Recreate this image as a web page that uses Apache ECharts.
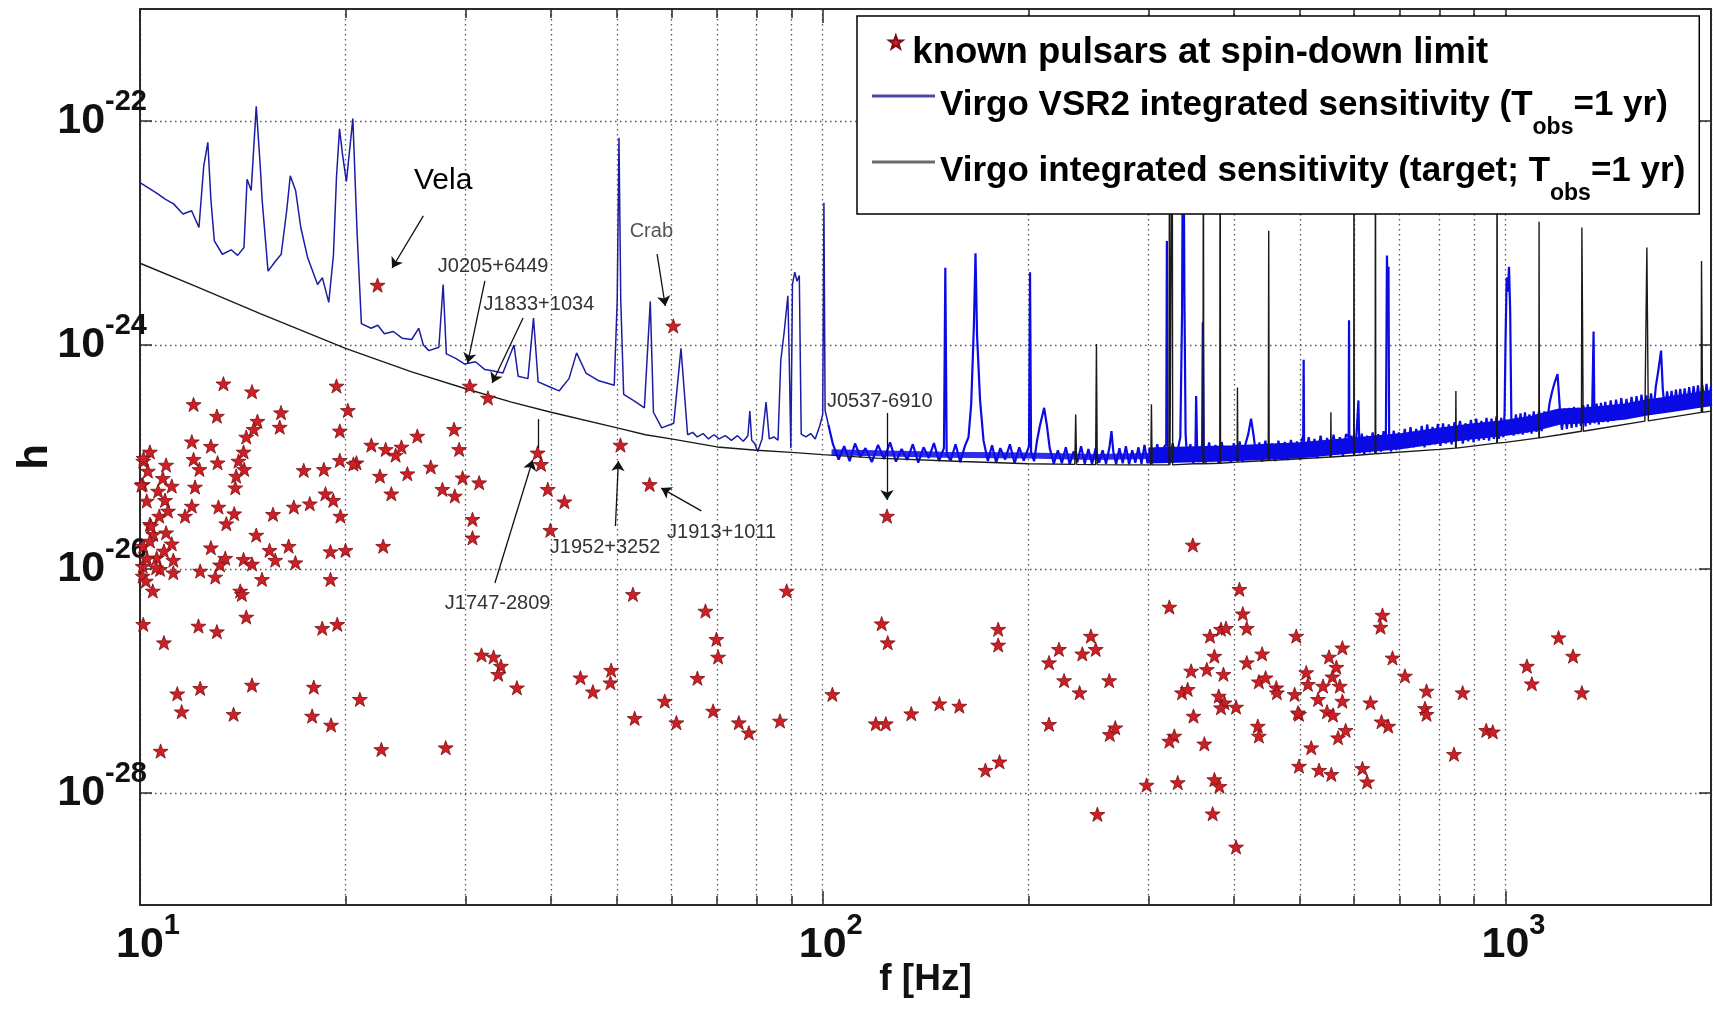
<!DOCTYPE html>
<html><head><meta charset="utf-8">
<script src="https://cdn.jsdelivr.net/npm/echarts@6/dist/echarts.min.js"></script>
<style>html,body{margin:0;padding:0;background:#fff}#c{width:1713px;height:1011px}</style>
</head><body><div id="c"></div>
<script>
// ---------- data ----------
const pulsarName = 'known pulsars at spin-down limit';
const vsr2Name = 'Virgo VSR2 integrated sensitivity (Tobs=1 yr)';
const targetName = 'Virgo integrated sensitivity (target; Tobs=1 yr)';

const xTicks = [10, 100, 1000];
const yTicks = [1e-28, 1e-26, 1e-24, 1e-22];

// [frequency Hz, strain h]
const pulsars = [
[22.28,3.43e-24],[60.41,1.48e-24],[30.41,4.31e-25],[32.33,3.37e-25],[38.23,1.09e-25],[50.55,1.28e-25],[55.78,5.70e-26],[124.2,2.97e-26],
[13.25,4.51e-25],[14.59,3.83e-25],[19.40,4.31e-25],[11.98,2.95e-25],[12.96,2.32e-25],[20.16,2.61e-25],[16.09,2.49e-25],[14.86,2.09e-25],
[16.02,1.85e-25],[14.67,1.77e-25],[19.62,1.71e-25],[14.31,1.51e-25],[11.91,1.37e-25],[12.70,1.25e-25],[21.82,1.28e-25],[22.90,1.17e-25],
[24.15,1.23e-25],[23.68,1.04e-25],[25.48,1.54e-25],[28.84,1.77e-25],[29.34,1.17e-25],[10.34,1.11e-25],[14.18,1.11e-25],[11.98,9.54e-26],
[12.99,8.89e-26],[13.94,9.21e-26],[19.62,9.34e-26],[20.75,8.89e-26],[20.54,8.66e-26],[10.11,9.21e-26],[10.92,8.49e-26],[12.22,7.76e-26],
[14.21,7.76e-26],[17.37,7.60e-26],[18.59,7.76e-26],[26.66,8.15e-26],[13.83,6.76e-26],[22.46,6.76e-26],[24.64,7.10e-26],[29.68,6.53e-26],
[31.39,5.90e-26],[10.80,6.46e-26],[10.09,5.70e-26],[11.13,5.51e-26],[12.04,5.40e-26],[13.79,5.32e-26],[27.73,5.15e-26],[23.34,4.70e-26],
[18.69,4.70e-26],[19.19,4.11e-26],[28.91,4.49e-26],[10.23,4.05e-26],[10.88,4.11e-26],[17.73,3.83e-26],[16.80,3.58e-26],[11.91,3.65e-26],
[13.03,3.58e-26],[15.66,3.08e-26],[13.74,3.12e-26],[11.64,2.97e-26],[19.66,2.97e-26],[30.69,2.78e-26],[10.67,2.97e-26],[10.34,2.51e-26],
[13.38,2.54e-26],[10.92,2.11e-26],[14.80,2.01e-26],[30.69,1.90e-26],[10.46,2.04e-26],[10.11,1.60e-26],[11.13,1.68e-26],[12.70,1.55e-26],
[16.51,1.60e-26],[15.48,1.47e-26],[22.71,1.60e-26],[19.01,1.43e-26],[20.00,1.47e-26],[10.58,1.26e-26],[11.19,1.20e-26],[13.33,1.25e-26],
[14.18,1.22e-26],[15.78,1.20e-26],[14.59,1.11e-26],[16.89,1.14e-26],[13.10,1.09e-26],[10.09,1.06e-26],[10.70,9.94e-27],[12.25,9.60e-27],
[11.19,9.27e-27],[12.89,8.49e-27],[15.09,8.09e-27],[19.01,8.09e-27],[10.09,8.66e-27],[10.44,6.37e-27],[14.02,6.37e-27],[14.10,5.94e-27],
[14.31,3.73e-27],[10.12,9.76e-26],[10.05,5.62e-26],[10.38,2.42e-26],[10.24,1.24e-26],[10.56,1.03e-26],[10.27,7.5e-26],[10.63,4.97e-26],
[10.99,3.30e-26],[10.34,1.78e-26],[10.84,1.45e-26],[10.20,7.82e-27],
[10.11,3.21e-27],[10.84,2.20e-27],[12.18,3.10e-27],[12.96,2.76e-27],[18.49,2.96e-27],[19.45,3.21e-27],[11.34,7.70e-28],[12.25,8.61e-28],
[14.59,9.21e-28],[17.97,8.83e-28],[11.51,5.32e-28],[13.71,5.05e-28],[17.87,4.87e-28],[19.05,4.05e-28],[20.99,6.87e-28],[10.72,2.37e-28],
[22.57,2.45e-28],[28.04,2.54e-28],
[38.67,8.61e-26],[39.56,5.15e-26],[41.84,3.99e-26],[39.91,2.22e-26],[52.72,5.94e-27],[67.33,4.22e-27],[88.55,6.37e-27],[31.64,1.71e-27],
[32.95,1.64e-27],[33.78,1.36e-27],[33.47,1.15e-27],[35.65,8.71e-28],[44.17,1.07e-27],[46.06,8.02e-28],[48.99,1.25e-27],[48.87,9.66e-28],
[69.87,2.36e-27],[70.27,1.64e-27],[65.53,1.06e-27],[58.69,6.62e-28],[53.03,4.65e-28],[61.05,4.25e-28],[69.10,5.40e-28],[75.35,4.25e-28],
[77.95,3.45e-28],[86.57,4.40e-28],[103.3,7.60e-28],[122.0,3.25e-27],[124.5,2.20e-27],[119.6,4.16e-28],[123.7,4.16e-28],
[348.4,1.64e-26],[180.7,2.90e-27],[180.7,2.10e-27],[134.8,5.11e-28],[148.2,6.27e-28],[158.5,5.98e-28],[173.1,1.60e-28],[181.5,1.90e-28],
[247.0,2.52e-27],[221.8,1.92e-27],[251.1,1.92e-27],[240.0,1.75e-27],[214.5,1.46e-27],[225.7,1.01e-27],[262.8,1.01e-27],[237.8,7.87e-28],
[214.5,4.11e-28],[268.2,3.83e-28],[263.3,3.34e-28],[252.5,6.46e-29],[321.9,4.58e-27],[407.7,6.59e-27],[412.3,3.99e-27],[417.9,2.96e-27],
[369.2,2.52e-27],[383.1,2.90e-27],[389.6,2.96e-27],[374.7,1.67e-27],[346.4,1.23e-27],[365.2,1.27e-27],[386.3,1.15e-27],[417.9,1.46e-27],
[440.1,1.75e-27],[493.8,2.52e-27],[335.9,7.87e-28],[342.4,8.43e-28],[380.2,7.35e-28],[387.6,6.40e-28],[383.1,5.78e-28],[403.1,5.86e-28],
[435.3,9.86e-28],[445.3,1.07e-27],[461.6,8.71e-28],[462.6,7.87e-28],[491.1,7.60e-28],[349.2,4.87e-28],[433.8,3.96e-28],[435.3,3.23e-28],
[498.4,5.05e-28],[327.3,3.23e-28],[321.9,2.91e-28],[362.2,2.75e-28],[498.4,1.74e-28],[298.1,1.18e-28],[331.1,1.24e-28],[374.7,1.32e-28],
[381.1,1.15e-28],[372.5,6.53e-29],[403.1,3.30e-29],
[660.5,3.88e-27],[656.1,3.03e-27],[576.9,1.98e-27],[551.5,1.64e-27],[683.2,1.61e-27],[565.4,1.33e-27],[510.7,1.19e-27],[557.8,1.09e-27],
[712.4,1.11e-27],[513.6,9.35e-28],[540.5,9.02e-28],[571.9,9.02e-28],[531.5,6.87e-28],[576.9,6.62e-28],[634.2,6.40e-28],[766.3,8.15e-28],
[865.5,7.87e-28],[496.6,5.21e-28],[547.8,5.32e-28],[559.0,4.97e-28],[762.3,5.70e-28],[766.3,5.05e-28],[583.3,3.63e-28],[568.6,3.12e-28],
[658.3,4.33e-28],[673.4,3.96e-28],[937.1,3.63e-28],[958.1,3.52e-28],[519.4,2.54e-28],[840.6,2.22e-28],[533.3,1.60e-28],[555.8,1.47e-28],
[617.3,1.66e-28],[627.2,1.26e-28],[1196,2.44e-27],[1256,1.67e-27],[1075,1.36e-27],[1093,9.46e-28],[1294,7.87e-28]
];

const vsr2 = [
[10.0,2.82e-23],[10.3,2.51e-23],[10.55,2.29e-23],[10.9,2.0e-23],[11.2,1.82e-23],[11.56,1.48e-23],[11.9,1.58e-23],[12.2,1.12e-23],
[12.4,3.98e-23],[12.57,6.46e-23],[12.7,2.0e-23],[12.85,8.51e-24],[13.2,6.46e-24],[13.6,7.08e-24],[13.9,6.31e-24],[14.2,7.41e-24],
[14.35,3.02e-23],[14.55,2.4e-23],[14.8,1.35e-22],[15.0,3.98e-23],[15.1,1.95e-23],[15.4,4.57e-24],[15.8,5.62e-24],[16.1,6.46e-24],
[16.4,1.58e-23],[16.6,3.24e-23],[16.9,2.4e-23],[17.2,1.12e-23],[17.6,6.03e-24],[18.2,3.47e-24],[18.5,3.98e-24],[18.9,2.4e-24],
[19.2,6.31e-24],[19.4,3.16e-23],[19.6,8.51e-23],[19.8,5.01e-23],[20.06,2.88e-23],[20.5,1.05e-22],[20.8,9.77e-24],[21.1,1.55e-24],
[21.8,1.41e-24],[22.3,1.5e-24],[22.8,1.26e-24],[23.5,1.32e-24],[24.2,1.15e-24],[25.0,1.12e-24],[25.6,1.41e-24],[26.0,1.0e-24],
[26.5,8.91e-25],[27.4,9.55e-25],[27.8,3.47e-24],[28.1,8.32e-25],[29.0,7.59e-25],[29.9,6.76e-25],[31.0,7.08e-25],[32.0,6.03e-25],
[32.8,5.89e-25],[34.0,5.62e-25],[35.3,1.0e-24],[35.8,5.25e-25],[37.0,5.01e-25],[37.7,1.74e-24],[38.3,4.68e-25],[40.0,4.17e-25],
[41.1,3.89e-25],[42.5,5.01e-25],[43.6,8.51e-25],[45.0,5.62e-25],[47.0,4.79e-25],[49.5,4.37e-25],[50.0,2.51e-24],[50.3,7.08e-23],
[50.6,2.51e-24],[51.1,3.63e-25],[53.0,3.16e-25],[54.8,2.75e-25],[55.9,2.45e-24],[56.5,2.51e-25],[58.1,1.82e-25],[60.5,2.0e-25],
[62.0,9.33e-25],[63.4,1.58e-25],
[64.5,1.66e-25],[65.5,1.51e-25],[66.8,1.62e-25],[68.0,1.45e-25],[69.3,1.58e-25],[70.5,1.45e-25],[72.0,1.55e-25],[73.5,1.41e-25],
[75.0,1.55e-25],[76.5,1.38e-25],[77.7,1.55e-25],[78.2,2.57e-25],[78.7,1.41e-25],[79.5,1.32e-25],[80.3,1.12e-25],[81.5,1.45e-25],
[82.6,3.09e-25],[83.5,1.45e-25],[84.8,1.51e-25],[86.0,1.41e-25],[86.8,7.24e-25],[87.8,1.3e-24],[88.9,2.75e-24],[89.3,8.0e-25],
[89.8,1.2e-25],[90.3,3.5e-24],[91.0,4.47e-24],[91.7,3.72e-24],[92.4,4.17e-24],[93.0,1.6e-25],[94.5,1.51e-25],[96.0,1.62e-25],
[97.5,1.45e-25],[99.0,1.9e-25],[100.0,2.4e-25],[100.4,1.86e-23],[100.8,2.6e-25],[101.9,1.95e-25],
[103.5,1.3e-25],[105.5,9.5e-26],[107.5,1.25e-25],[109.5,9.2e-26],[111.5,1.32e-25],[113.5,1.0e-25],[115.5,1.2e-25],[118,9.0e-26],
[120.5,1.28e-25],[123,9.6e-26],[125.5,1.35e-25],[128,9.1e-26],[130.5,1.18e-25],[133,9.4e-26],[135.5,1.3e-25],[138,8.9e-26],
[140.5,1.22e-25],[143,9.8e-26],[145.5,1.33e-25],[148,9.2e-26],[150.5,1.2e-25],[151.2,4.9e-24],[151.9,1.05e-25],[154,9.3e-26],
[156.5,1.3e-25],[159,9.0e-26],[161.5,1.25e-25],[163.5,1.5e-25],[165,3.0e-25],[166.5,1.5e-24],[167.4,6.6e-24],[168.3,1.2e-24],
[170,3.2e-25],[172,1.4e-25],[174.5,9.2e-26],[177,1.27e-25],[179.5,8.9e-26],[182,1.2e-25],[185,9.5e-26],[188,1.3e-25],
[191,8.8e-26],[194,1.22e-25],[197,9.3e-26],[200.5,1.25e-25],[201.2,4.47e-24],[201.9,1.1e-25],[204,9.2e-26],[206,1.4e-25],
[208,1.9e-25],[211,2.75e-25],[213,1.9e-25],[215,1.2e-25],[218,8.7e-26],[221,1.15e-25],[224,8.8e-26],[227,1.22e-25],
[230,8.6e-26],[233,1.12e-25],[236,9.0e-26],[239,1.25e-25],[242,8.7e-26],[245,1.18e-25],[248,8.6e-26],[251,1.2e-25],
[254,8.9e-26],[257,1.15e-25],[260,8.7e-26],[263,1.22e-25],[264.8,1.7e-25],[266.5,1.1e-25],[269,8.6e-26],[272,1.2e-25],
[275,8.8e-26],[278,1.25e-25],[281,8.6e-26],[284,1.15e-25],[287,8.9e-26],[290,1.22e-25],[293,8.7e-26],[296,1.28e-25],
[299,8.8e-26],[302,1.2e-25],[305.5,8.9e-26],[309,1.3e-25],[312.5,9.2e-26],[316,1.22e-25],[318.5,1.3e-25],[319.2,8.5e-24],
[319.9,1.1e-25],[322,8.8e-26],[325.5,1.33e-25],[329,9.0e-26],[332,1.25e-25],[334,1.5e-25],[336,2.0e-24],[337.3,5.0e-22],
[338.6,3.0e-24],[340,1.6e-25],[342,9.1e-26],[345.5,1.3e-25],[349,8.8e-26],[351.5,1.2e-25],[352.3,3.5e-25],[353.5,1.15e-25],
[356,9.0e-26],[359.5,1.3e-25],[360.3,1.6e-24],[361.5,1.05e-25],[364,8.9e-26],[368,1.35e-25],[372,9.2e-26],[376,1.28e-25],
[380,8.8e-26],[384,1.36e-25],[388,9.4e-26],[392,1.24e-25],[396,8.9e-26],[400,1.33e-25],[404,9.3e-26],[408,1.38e-25],
[412,9.0e-26],[416,1.3e-25],[420,1.6e-25],[424,2.2e-25],[428,1.5e-25],[432,9.4e-26],[436,1.35e-25],[440,9.1e-26],
[445,1.4e-25],[450,9.5e-26],[455,1.32e-25],[460,9.2e-26],[465,1.4e-25],[470,9.6e-26],[475,1.36e-25],[480,9.4e-26],
[485,1.42e-25],[490,9.8e-26],[495,1.38e-25],[500,9.5e-26],[503,1.4e-25],[505.5,1.55e-25],[506.3,7.4e-25],[507.1,1.15e-25],
[510,1.0e-25],[515,1.5e-25],[520,1.02e-25],[525,1.45e-25],[530,9.8e-26],[536,1.55e-25],[542,1.04e-25],[548,1.48e-25],
[554,1.0e-25],[560,1.58e-25],[566,1.06e-25],[572,1.5e-25],[578,1.02e-25],[584,1.6e-25],[589.3,1.5e-25],[590,1.66e-24],
[590.7,1.1e-25],[595,1.55e-25],[600,1.05e-25],[605,1.58e-25],[609,3.2e-25],[611,1.08e-25],[616,1.62e-25],[621,1.05e-25],
[627,1.55e-25],[633,1.1e-25],[639,1.66e-25],[645,1.07e-25],[651,1.6e-25],[657,1.12e-25],[663,1.7e-25],[668,1.4e-25],
[670.5,6.3e-24],[672,3.0e-24],[674,5.0e-24],[675.5,1.3e-25],[680,1.12e-25],[686,1.72e-25],[692,1.15e-25],[698,1.66e-25],
[705,1.18e-25],[712,1.78e-25],[719,1.2e-25],[726,1.85e-25],[733,1.22e-25],[740,1.78e-25],[747,1.25e-25],[754,1.9e-25],
[761,1.22e-25],[768,1.95e-25],[775,1.28e-25],[782,1.86e-25],[789,1.3e-25],[796,1.98e-25],[803,1.26e-25],[810,2.0e-25],
[818,1.32e-25],[826,1.95e-25],[834,1.3e-25],[842,2.05e-25],[846,1.4e-25],[850,1.35e-25],[858,2.1e-25],[866,1.32e-25],
[874,2.0e-25],[882,1.38e-25],[890,2.14e-25],[898,1.35e-25],[906,2.2e-25],[914,1.4e-25],[922,2.1e-25],[930,1.42e-25],
[938,2.24e-25],[946,1.4e-25],[954,2.2e-25],[962,1.45e-25],[970,2.3e-25],[978,1.45e-25],[986,2.24e-25],[993,1.5e-25],
[997,2.5e-25],[1000,1.0e-24],[1004,4.0e-24],[1008,3.0e-24],[1012,5.0e-24],[1016,2.0e-24],[1020,2.2e-25],[1028,1.55e-25],
[1036,2.4e-25],[1044,1.6e-25],[1052,2.45e-25],[1060,1.58e-25],[1068,2.5e-25],[1076,1.65e-25],[1084,2.4e-25],[1092,1.62e-25],
[1100,2.55e-25],[1110,1.68e-25],[1120,2.6e-25],[1130,1.7e-25],[1140,2.55e-25],[1150,2.0e-25],[1160,3.0e-25],[1170,3.8e-25],
[1180,4.6e-25],[1192,5.5e-25],[1198,3.5e-25],[1204,2.2e-25],[1210,1.75e-25],[1220,2.7e-25],[1230,1.78e-25],[1240,2.75e-25],
[1250,1.82e-25],[1260,2.8e-25],[1270,1.85e-25],[1280,2.75e-25],[1290,1.9e-25],[1300,2.9e-25],[1310,1.88e-25],[1320,2.95e-25],
[1330,1.95e-25],[1340,2.85e-25],[1346,1.32e-24],[1350,2.0e-25],[1360,3.0e-25],[1370,1.95e-25],[1380,3.05e-25],[1390,2.05e-25],
[1400,3.1e-25],[1413,2.05e-25],[1426,3.2e-25],[1439,2.1e-25],[1452,3.25e-25],[1465,2.15e-25],[1478,3.35e-25],[1491,2.2e-25],
[1504,3.3e-25],[1517,2.25e-25],[1530,3.45e-25],[1543,2.3e-25],[1556,3.5e-25],[1569,2.3e-25],[1582,3.6e-25],[1595,2.4e-25],
[1608,3.55e-25],[1621,2.45e-25],[1634,3.7e-25],[1647,2.5e-25],[1660,4.2e-25],[1675,6.0e-25],[1690,8.9e-25],[1700,4.0e-25],
[1712,2.55e-25],[1725,3.85e-25],[1738,2.6e-25],[1751,3.9e-25],[1764,2.65e-25],[1777,4.0e-25],[1790,2.7e-25],[1803,4.05e-25],
[1816,2.75e-25],[1830,4.1e-25],[1844,2.8e-25],[1858,4.2e-25],[1872,2.85e-25],[1886,4.3e-25],[1900,2.9e-25],[1914,4.35e-25],
[1928,2.95e-25],[1942,4.4e-25],[1956,3.0e-25],[1970,4.5e-25],[1985,3.05e-25],[2000,4.3e-25]
];

// centre line of the dense VSR2 noise band (the band itself is drawn as a thick stroke)
const vsr2BandLow = [[103,1.1e-25],[150,1.05e-25],[200,1.03e-25],[250,1.0e-25],[300,1.02e-25]];
const vsr2BandHigh = [
[300,1.03e-25],[400,1.08e-25],[500,1.15e-25],[600,1.27e-25],[700,1.38e-25],[800,1.55e-25],[900,1.7e-25],[1000,1.82e-25],
[1100,2.0e-25],[1200,2.3e-25],[1300,2.35e-25],[1400,2.45e-25],[1500,2.55e-25],[1600,2.75e-25],[1700,2.9e-25],[1800,3.05e-25],
[1900,3.2e-25],[2000,3.35e-25]
];

const target = [
[10,5.37e-24],[12,3.39e-24],[15,1.91e-24],[20,9.33e-25],[25,5.75e-25],[30,4.07e-25],[35,3.09e-25],[40,2.51e-25],
[50,1.82e-25],[55,1.58e-25],[60,1.45e-25],[70,1.23e-25],[80,1.15e-25],[90,1.10e-25],[100,1.05e-25],[120,9.77e-26],
[160,9.12e-26],[200,8.71e-26],[234,8.6e-26],[234.7,2.4e-25],[235.4,8.6e-26],[251,8.55e-26],[251.7,1.02e-24],[252.4,8.55e-26],
[280,8.51e-26],[302.3,8.5e-26],[303,2.95e-25],[303.7,8.5e-26],[321.5,8.5e-26],[322,3.2e-22],[322.5,8.5e-26],[324.5,8.5e-26],
[325,3.2e-22],[325.5,8.5e-26],[350,8.71e-26],[360.5,8.7e-26],[361,3.2e-22],[361.5,8.7e-26],[381.5,8.8e-26],[382,3.2e-22],
[382.5,8.8e-26],[404.5,9.0e-26],[405,4.17e-25],[405.5,9.0e-26],[449.3,9.3e-26],[450,1.05e-23],[450.7,9.3e-26],[554.4,1.0e-25],
[555,2.51e-25],[555.6,1.0e-25],[599.4,1.03e-25],[600,3.2e-22],[600.6,1.03e-25],[644.3,1.07e-25],[645,3.2e-22],[645.7,1.07e-25],
[800,1.17e-25],[845,1.2e-25],[846,3.89e-25],[847,1.2e-25],[971,1.33e-25],[972,3.2e-22],[973,1.33e-25],[1000,1.35e-25],
[1119,1.48e-25],[1120,1.26e-23],[1121,1.48e-25],[1200,1.58e-25],[1292,1.7e-25],[1294,1.12e-23],[1298,1.12e-23],[1300,1.7e-25],
[1600,2.09e-25],[1609,2.1e-25],[1611,7.41e-24],[1617,7.41e-24],[1619,2.1e-25],[1935,2.5e-25],[1937,5.62e-24],[1942,5.62e-24],
[1944,2.5e-25],[2000,2.57e-25]
];

// annotations (data coordinates)
const labelNames = ['Vela','Crab','J0205+6449','J1833+1034','J1747-2809','J1952+3252','J1913+1011','J0537-6910'];
const labelAt = [[27.8,2.91e-23],[56.1,1.04e-23],[32.9,5.07e-24],[38.4,2.32e-24],[33.4,4.97e-27],[48.0,1.57e-26],[71.1,2.14e-26],[121.2,3.16e-25]];
const arrowFrom = [[26.0,1.42e-23],[57.2,6.49e-24],[32.0,3.73e-24],[36.4,1.74e-24],[33.1,7.50e-27],[49.7,2.42e-26],[66.4,3.30e-26],[124.2,2.47e-25]];
const arrowTo = [[23.4,4.87e-24],[58.8,2.23e-24],[30.2,6.91e-25],[32.8,4.58e-25],[37.6,9.40e-26],[50.2,9.2e-26],[58.0,5.28e-26],[124.2,4.13e-26]];
const plainSegments = [[[38.3,2.18e-25],[38.3,1.20e-25]]];

// ---------- chart ----------
const SPLIT_F = 101.9; // the VSR2 curve is drawn thin below, dense band above
const FONT = '"Liberation Sans", Arial, Helvetica, sans-serif';
const STAR = 'path://M0,-10L2.35,-3.24L9.51,-3.09L3.8,1.24L5.88,8.09L0,4L-5.88,8.09L-3.8,1.24L-9.51,-3.09L-2.35,-3.24Z';
const isTick = (v, list) => list.some(t => Math.abs(Math.log10(t) - Math.log10(v)) < 1e-6);
const expLabel = v => '{b|10}{s|' + Math.round(Math.log10(v)) + '}';
const GRID_LINE = {color: '#555', width: 1.3, type: [1.5, 3.5]};
const AX_LINE = {color: '#2a2a2a', width: 2};
const TICK = {color: '#2a2a2a', width: 1.5};
const BAND_BLUE = '#0b0be6';

const makeLegendRich = (size) => ({
  t: {fontSize: size, fontWeight: 'bold', fontFamily: FONT, color: '#000', lineHeight: 40, verticalAlign: 'top', padding: [12, 0, 0, 0]},
  sub: {fontSize: 23, fontWeight: 'bold', fontFamily: FONT, color: '#000', lineHeight: 24, verticalAlign: 'top', padding: [40, 0, 0, 0]}
});
const legendFormatter = n => {
  const i = n.indexOf('Tobs');
  if (i < 0) return '{t|' + n + '}';
  return '{t|' + n.slice(0, i + 1) + '}{sub|obs}{t|' + n.slice(i + 4) + '}';
};
const tickRich = (padLeft) => ({
  b: {fontSize: 43, fontWeight: 'bold', fontFamily: FONT, color: '#111', lineHeight: 68, padding: [0, 0, 0, padLeft]},
  s: {fontSize: 29, fontWeight: 'bold', fontFamily: FONT, color: '#111', lineHeight: 29, verticalAlign: 'top'}
});

const chart = echarts.init(document.getElementById('c'), null, {renderer: 'canvas'});
const option = {
  animation: false,
  backgroundColor: '#ffffff',
  grid: {left: 140, top: 9, right: 2, bottom: 106, containLabel: false, outerBoundsMode: 'none'},
  xAxis: [{
    type: 'log', logBase: 10, min: 10, max: 2000, position: 'bottom',
    axisLine: {show: true, onZero: false, lineStyle: AX_LINE},
    axisTick: {show: true, inside: true, length: 14, lineStyle: TICK},
    minorTick: {show: true, splitNumber: 9, length: 9, lineStyle: TICK},
    splitLine: {show: true, lineStyle: GRID_LINE},
    minorSplitLine: {show: true, lineStyle: GRID_LINE},
    axisLabel: {margin: 6, formatter: v => isTick(v, xTicks) ? expLabel(v) : '', rich: tickRich(16)},
    name: 'f [Hz]', nameLocation: 'middle', nameGap: 56, nameMoveOverlap: false,
    nameTextStyle: {fontSize: 37, fontWeight: 'bold', fontFamily: FONT, color: '#111'}
  }, {
    type: 'log', logBase: 10, min: 10, max: 2000, position: 'top',
    axisLine: {show: true, onZero: false, lineStyle: AX_LINE},
    axisTick: {show: true, inside: true, length: 14, lineStyle: TICK},
    minorTick: {show: true, splitNumber: 9, length: 9, lineStyle: TICK},
    axisLabel: {show: false}, splitLine: {show: false}
  }],
  yAxis: [{
    type: 'log', logBase: 100, min: 1e-29, max: 1e-21, position: 'left',
    axisLine: {show: true, onZero: false, lineStyle: AX_LINE},
    axisTick: {show: true, inside: true, length: 12, lineStyle: TICK},
    splitLine: {show: true, lineStyle: GRID_LINE},
    axisLabel: {margin: -7, formatter: v => isTick(v, yTicks) ? expLabel(v) : '', rich: tickRich(0)},
    name: 'h', nameLocation: 'middle', nameGap: 84, nameRotate: 90, nameMoveOverlap: false,
    nameTextStyle: {fontSize: 42, fontWeight: 'bold', fontFamily: FONT, color: '#111'}
  }, {
    type: 'log', logBase: 100, min: 1e-29, max: 1e-21, position: 'right',
    axisLine: {show: true, onZero: false, lineStyle: AX_LINE},
    axisTick: {show: true, inside: true, length: 12, lineStyle: TICK},
    axisLabel: {show: false}, splitLine: {show: false}
  }],
  legend: [{
    id: 'lgPulsar', orient: 'vertical', left: 857, top: 16, padding: [6, 0, 0, 31],
    itemWidth: 23, itemHeight: 13, z: 8, selectedMode: false,
    data: [{name: pulsarName, icon: STAR}],
    textStyle: {rich: makeLegendRich(36.5)}, formatter: legendFormatter
  }, {
    id: 'lgLines', orient: 'vertical', left: 857, top: 16, padding: [60, 14, 9, 15],
    itemWidth: 63, itemHeight: 3, itemGap: 3, z: 6, selectedMode: false,
    backgroundColor: '#ffffff', borderColor: '#000', borderWidth: 1.5,
    data: [
      {name: vsr2Name, icon: 'rect', itemStyle: {color: '#4b4ba6'}},
      {name: targetName, icon: 'rect', itemStyle: {color: '#6a6a6a'}}
    ],
    textStyle: {rich: makeLegendRich(35)}, formatter: legendFormatter
  }],
  series: [{
    name: vsr2Name, type: 'line', data: vsr2.filter(p => p[0] <= SPLIT_F), showSymbol: false, symbol: 'none',
    lineStyle: {color: '#1c1ca4', width: 1.5}, itemStyle: {color: '#1c1ca4'}, silent: true, z: 2
  }, {
    name: vsr2Name, type: 'line', data: vsr2BandLow, showSymbol: false, symbol: 'none',
    lineStyle: {color: BAND_BLUE, width: 6, opacity: 0.85}, itemStyle: {color: BAND_BLUE}, silent: true, z: 2
  }, {
    name: vsr2Name, type: 'line', data: vsr2BandHigh, showSymbol: false, symbol: 'none',
    lineStyle: {color: BAND_BLUE, width: 16}, itemStyle: {color: BAND_BLUE}, silent: true, z: 2
  }, {
    name: vsr2Name, type: 'line', data: vsr2.filter(p => p[0] >= SPLIT_F), showSymbol: false, symbol: 'none',
    lineStyle: {color: BAND_BLUE, width: 2.2}, itemStyle: {color: BAND_BLUE}, silent: true, z: 2
  }, {
    name: targetName, type: 'line', data: target, showSymbol: false, symbol: 'none',
    lineStyle: {color: '#1a1a1a', width: 1.4}, itemStyle: {color: '#1a1a1a'}, silent: true, z: 3
  }, {
    name: pulsarName, type: 'scatter', data: pulsars, symbol: STAR, symbolSize: 15, symbolKeepAspect: true,
    itemStyle: {color: '#cc1f26', borderColor: '#7a0e12', borderWidth: 0.8, opacity: 1}, z: 4, silent: true,
    markLine: {
      silent: true, symbol: ['none', 'arrow'], symbolSize: 10, animation: false,
      label: {show: false}, lineStyle: {color: '#111', width: 1.3, type: 'solid'},
      data: arrowFrom.map((a, i) => [{coord: a}, {coord: arrowTo[i]}]).concat(
        plainSegments.map(s => [{coord: s[0], symbol: 'none'}, {coord: s[1], symbol: 'none'}]))
    },
    markPoint: {
      silent: true, symbol: 'circle', symbolSize: 0, animation: false,
      label: {show: true, position: 'inside', formatter: p => p.name, fontSize: 20, fontFamily: FONT, color: '#333'},
      data: labelNames.map((n, i) => ({
        name: n, coord: labelAt[i],
        label: n === 'Vela' ? {fontSize: 30, color: '#000'} : (n === 'Crab' ? {fontSize: 20, color: '#555'} : {})
      }))
    }
  }]
};
chart.setOption(option);
</script>
</body></html>
